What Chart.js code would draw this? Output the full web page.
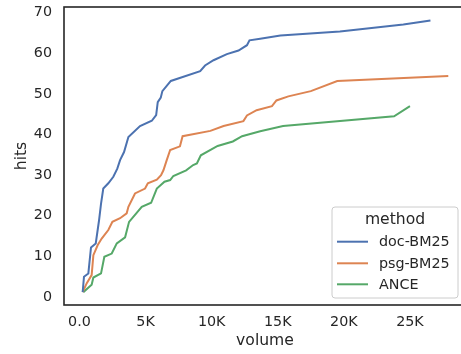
<!DOCTYPE html>
<html>
<head>
<meta charset="utf-8">
<script src="https://cdn.jsdelivr.net/npm/chart.js@4"></script>
<style>
  html, body { margin: 0; padding: 0; background: #fff; overflow: hidden; }
  #wrap { width: 470px; height: 354px; }
</style>
</head>
<body>
<div id="wrap"><canvas id="chart"></canvas></div>
<script>
// values
const docVolume = [240, 340, 670, 870, 1230, 1480, 1630, 1800, 2180, 2560, 2860, 3070, 3370, 3700, 4580, 5470, 5800, 5920, 6150, 6270, 6910, 9130, 9500, 10140, 11150, 12030, 12670, 12860, 13670, 15200, 19700, 24500, 26550]
const docHits = [1.2, 5.0, 5.8, 12.2, 13.2, 18.9, 23, 26.7, 28, 29.6, 31.6, 33.7, 35.7, 39.4, 42.1, 43.4, 44.8, 48.0, 49.1, 50.7, 53.2, 55.6, 57.0, 58.3, 59.8, 60.7, 62.0, 63.2, 63.6, 64.4, 65.4, 67.1, 68.1]

const psgVolume = [240, 550, 920, 1050, 1380, 1680, 2180, 2490, 3070, 3570, 3700, 4200, 4960, 5170, 5850, 6170, 6350, 6600, 6860, 7600, 7800, 9900, 10900, 12400, 12670, 13400, 14560, 14900, 15800, 17500, 19500, 27900]
const psgHits = [1.2, 3.4, 5.4, 10.3, 12.8, 14.4, 16.5, 18.5, 19.4, 20.6, 22.2, 25.5, 26.7, 28, 28.9, 30, 31.2, 33.7, 36.2, 37.1, 39.6, 40.9, 42.1, 43.3, 44.7, 46, 47, 48.4, 49.4, 50.7, 53.2, 54.4]

const anceVolume = [290, 920, 1050, 1630, 1880, 2440, 2820, 3450, 3750, 4710, 5420, 5850, 6430, 6860, 7100, 8070, 8600, 8880, 9180, 10450, 11600, 12300, 13670, 15400, 23800, 25000]
const anceHits = [1.2, 3.0, 4.8, 5.8, 9.9, 10.7, 13.2, 14.7, 18.5, 22.2, 23.2, 26.7, 28.4, 28.8, 29.8, 31.2, 32.5, 32.9, 34.9, 37.2, 38.3, 39.6, 40.8, 42.1, 44.5, 47.0]

const methods = ['doc-BM25', 'psg-BM25', 'ANCE']
const colors = ['#4c72b0', '#dd8452', '#55a868']

const xTickValues = [0, 5000, 10000, 15000, 20000, 25000]
const xTickLabels = ['0.0', '5K', '10K', '15K', '20K', '25K']
const yTickValues = [0, 10, 20, 30, 40, 50, 60, 70]

const ink = '#262626'
const font = 'DejaVu Sans'

const toPoints = (xs, ys) => xs.map((x, i) => ({ x: x, y: ys[i] }))

const series = [
    toPoints(docVolume, docHits),
    toPoints(psgVolume, psgHits),
    toPoints(anceVolume, anceHits)
]

// axes frame + legend box in the lower right
const framePlugin = {
    id: 'frame',
    afterDatasetsDraw(chart) {
        const { ctx, chartArea: a } = chart
        ctx.save()
        ctx.strokeStyle = ink
        ctx.lineWidth = 1.6
        ctx.strokeRect(a.left, a.top, a.right - a.left, a.bottom - a.top)
        ctx.restore()
    },
    afterDraw(chart) {
        const ctx = chart.ctx
        const bx = 332, by = 207, bw = 126, bh = 91
        ctx.save()
        ctx.beginPath()
        ctx.roundRect(bx, by, bw, bh, 3)
        ctx.fillStyle = 'rgba(255,255,255,0.8)'
        ctx.fill()
        ctx.strokeStyle = '#cccccc'
        ctx.lineWidth = 1
        ctx.stroke()

        ctx.fillStyle = ink
        ctx.textBaseline = 'middle'
        ctx.textAlign = 'center'
        ctx.font = '15.6px "' + font + '"'
        ctx.fillText('method', 395, 220)

        ctx.textAlign = 'left'
        ctx.font = '14.3px "' + font + '"'
        const rows = [241.7, 263.3, 284.3]
        methods.forEach((name, i) => {
            ctx.strokeStyle = colors[i]
            ctx.lineWidth = 2
            ctx.beginPath()
            ctx.moveTo(337, rows[i])
            ctx.lineTo(368, rows[i])
            ctx.stroke()
            ctx.fillText(name, 379, rows[i] + 1)
        })
        ctx.restore()
    }
}

new Chart(document.getElementById('chart'), {
    type: 'line',
    data: {
        datasets: methods.map((name, i) => ({
            label: name,
            data: series[i],
            borderColor: colors[i],
            backgroundColor: colors[i],
            borderWidth: 2,
            pointRadius: 0,
            tension: 0,
            fill: false
        }))
    },
    options: {
        responsive: true,
        maintainAspectRatio: false,
        animation: false,
        layout: { padding: { top: 7, right: 4, bottom: 0, left: 0 } },
        plugins: {
            legend: { display: false },
            tooltip: { enabled: false }
        },
        scales: {
            x: {
                type: 'linear',
                min: -1172,
                max: 29240,
                grid: { display: false, drawTicks: false },
                border: { display: false },
                afterFit: (s) => { s.height = 49; s.paddingLeft = 0; s.paddingRight = 0 },
                afterBuildTicks: (s) => { s.ticks = xTickValues.map(v => ({ value: v })) },
                ticks: {
                    color: ink,
                    padding: 9,
                    maxRotation: 0,
                    font: { family: font, size: 14.3 },
                    callback: (v) => xTickLabels[xTickValues.indexOf(v)]
                },
                title: {
                    display: true,
                    text: 'volume',
                    color: ink,
                    padding: { top: 0, bottom: 4 },
                    font: { family: font, size: 15.6 }
                }
            },
            y: {
                min: -1.97,
                max: 71.41,
                grid: { display: false, drawTicks: false },
                border: { display: false },
                afterFit: (s) => { s.width = 64; s.paddingTop = 0; s.paddingBottom = 0 },
                afterBuildTicks: (s) => { s.ticks = yTickValues.map(v => ({ value: v })) },
                ticks: {
                    color: ink,
                    padding: 12,
                    font: { family: font, size: 14.3 }
                },
                title: {
                    display: true,
                    text: 'hits',
                    color: ink,
                    padding: { top: 12.6, bottom: 0 },
                    font: { family: font, size: 15.6 }
                }
            }
        }
    },
    plugins: [framePlugin]
})
</script>
</body>
</html>
